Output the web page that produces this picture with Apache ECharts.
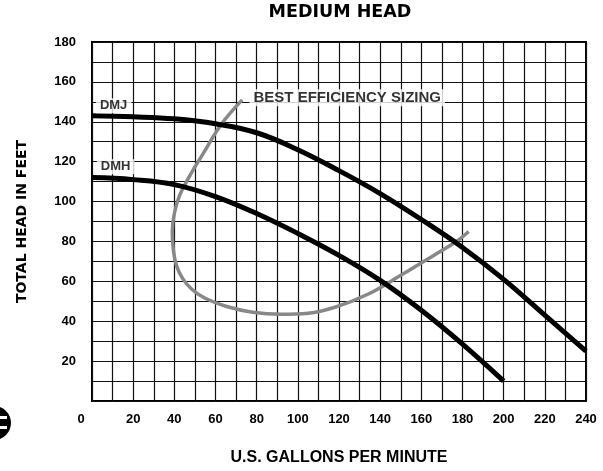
<!DOCTYPE html>
<html>
<head>
<meta charset="utf-8">
<script src="https://cdn.jsdelivr.net/npm/echarts@6/dist/echarts.min.js"></script>
<style>
  html, body { margin: 0; padding: 0; background: #fff; }
  #chart { width: 603px; height: 471px; }
</style>
</head>
<body>
<div id="chart"></div>
<script>
// pump curves (GPM -> feet)
const dmjGpm = [0, 20, 40, 60, 80, 100, 120, 140, 160, 180, 200, 220, 240];
const dmjHead = [143, 142.5, 141.5, 139, 134.5, 126, 115.5, 104, 91, 77, 61, 43, 25];
const dmhGpm = [0, 20, 40, 60, 80, 100, 120, 140, 160, 180, 200];
const dmhHead = [112, 111, 108.5, 102.5, 94, 84, 73, 60.5, 45.5, 28.5, 10];
// best efficiency loop
const effGpm = [73, 63, 54, 47, 42.5, 40, 39, 39.5, 41, 44, 48.5, 55, 65, 78, 92, 105, 118, 134, 150, 166, 177, 183];
const effHead = [151, 139, 124, 112, 103, 94, 85, 76, 68, 61.5, 56, 51.5, 47.5, 44.5, 43.5, 44, 47, 53.5, 63, 73, 80, 85];
// text labels inside the plot
const noteText = ["DMJ", "DMH", "BEST EFFICIENCY SIZING"];
const noteGpm = [10.5, 11.5, 124];
const noteHead = [148, 117.5, 152];
const noteSize = [13, 13, 15];

const zip = (xs, ys) => xs.map((x, i) => [x, ys[i]]);

const chart = echarts.init(document.getElementById("chart"));
const font = "Liberation Sans";

chart.setOption({
  animation: false,
  backgroundColor: "#fff",
  title: {
    text: "MEDIUM HEAD",
    left: 335,
    textAlign: "center",
    top: -2,
    textStyle: { fontFamily: "DejaVu Sans", fontWeight: "bold", fontSize: 17.5, color: "#000" },
  },
  grid: {
    left: 92, right: 17, top: 42, bottom: 65,
    show: true, borderColor: "#000", borderWidth: 2, backgroundColor: "transparent",
  },
  xAxis: {
    type: "value", min: 0, max: 240, interval: 10,
    name: "U.S. GALLONS PER MINUTE", nameLocation: "middle", nameGap: 49,
    nameTextStyle: { fontFamily: font, fontWeight: "bold", fontSize: 16, color: "#000" },
    axisLine: { show: false }, axisTick: { show: false },
    splitLine: { lineStyle: { color: "#111", width: 1.2 } },
    axisLabel: {
      margin: 12,
      fontFamily: font, fontWeight: "bold", fontSize: 13, color: "#000",
      formatter: v => v === 0 ? "{z|0}" : (v % 20 === 0 ? String(v) : ""),
      rich: { z: { fontFamily: font, fontWeight: "bold", fontSize: 13, color: "#000", padding: [0, 22, 0, 0] } },
    },
  },
  yAxis: {
    type: "value", min: 0, max: 180, interval: 10,
    name: "TOTAL HEAD IN FEET", nameLocation: "middle", nameGap: 63, nameRotate: 90,
    nameTextStyle: { fontFamily: "DejaVu Sans", fontWeight: "bold", fontSize: 14, color: "#000" },
    axisLine: { show: false }, axisTick: { show: false },
    splitLine: { lineStyle: { color: "#111", width: 1.2 } },
    axisLabel: {
      margin: 16,
      fontFamily: font, fontWeight: "bold", fontSize: 13, color: "#000",
      formatter: v => (v !== 0 && v % 20 === 0) ? String(v) : "",
    },
  },
  series: [
    {
      name: "BEST EFFICIENCY SIZING", type: "line", data: zip(effGpm, effHead),
      smooth: 0.4, showSymbol: false, z: 3,
      lineStyle: { color: "#888", width: 3.5 },
    },
    {
      name: "DMJ", type: "line", data: zip(dmjGpm, dmjHead),
      smooth: 0.4, showSymbol: false, z: 4,
      lineStyle: { color: "#000", width: 5 },
    },
    {
      name: "DMH", type: "line", data: zip(dmhGpm, dmhHead),
      smooth: 0.4, showSymbol: false, z: 4,
      lineStyle: { color: "#000", width: 5 },
    },
    {
      type: "scatter", symbolSize: 0, z: 5, silent: true,
      data: noteText.map((t, i) => ({
        value: [noteGpm[i], noteHead[i]], name: t,
        label: {
          show: true, position: "inside", formatter: t,
          fontFamily: font, fontWeight: "bold", fontSize: noteSize[i], color: "#000",
          backgroundColor: "#fff", padding: [1, 4],
        },
      })),
    },
  ],
  graphic: [
    { type: "circle", shape: { cx: -6, cy: 423, r: 17 }, style: { fill: "#000" } },
    { type: "rect", shape: { x: 0, y: 416, width: 7, height: 3 }, style: { fill: "#fff" } },
    { type: "rect", shape: { x: 0, y: 426, width: 7, height: 3 }, style: { fill: "#fff" } },
  ],
});
</script>
</body>
</html>
